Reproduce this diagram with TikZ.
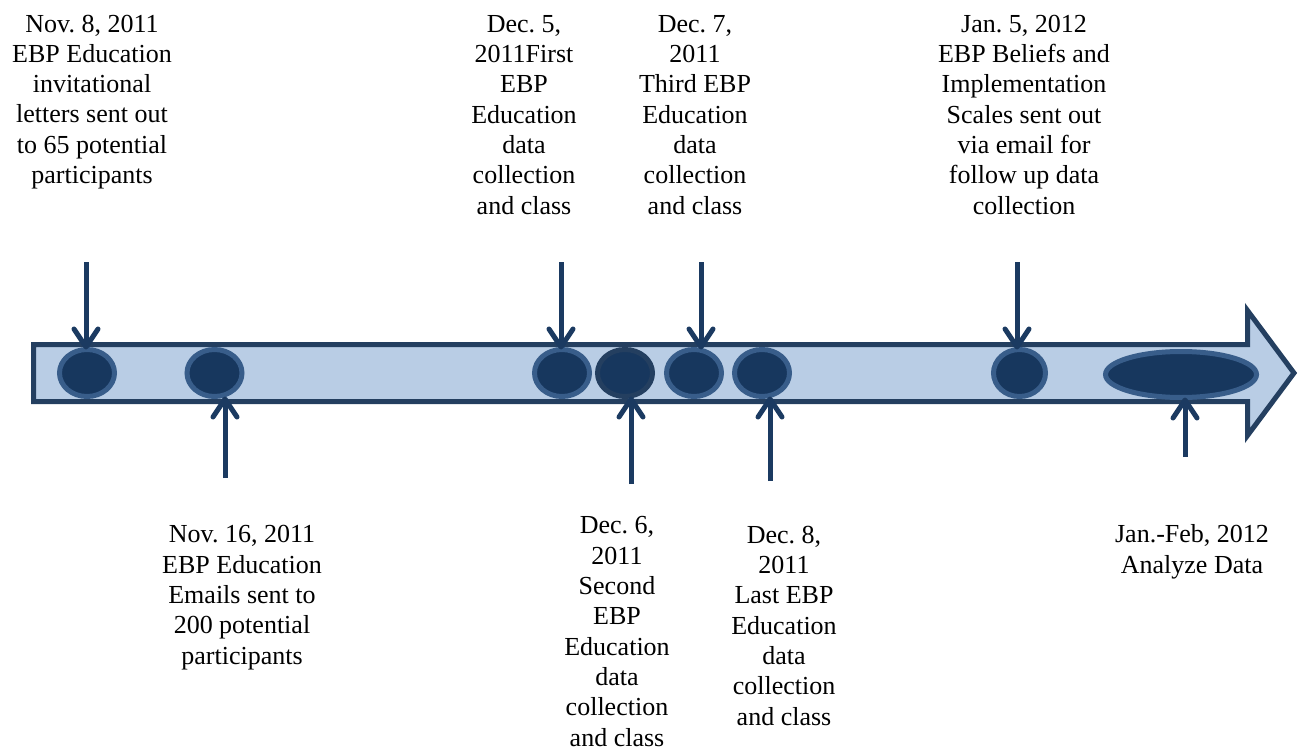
\documentclass[tikz,border=0pt]{standalone}
\usepackage{fontspec}
\setmainfont{Liberation Serif}
\usetikzlibrary{arrows.meta,shapes.geometric}
\frenchspacing
\definecolor{barfill}{HTML}{B9CDE5}
\definecolor{barline}{HTML}{243F60}
\definecolor{dotfill}{HTML}{17375E}
\definecolor{dotline}{HTML}{385D8A}
\definecolor{dotlinedark}{HTML}{243F60}
\definecolor{conn}{HTML}{1B3A61}
\tikzset{
  dot/.style={ellipse, draw=dotline, fill=dotfill, line width=5pt, inner sep=0pt, outer sep=0pt, minimum width=55pt, minimum height=47pt},
  lbl/.style={align=center, anchor=base, inner sep=0pt, font=\fontsize{26}{30.3}\selectfont\frenchspacing},
  conn/.style={draw=conn, line width=5pt, -{Straight Barb[length=18pt,width=24pt,round]}}
}
\begin{document}
\begin{tikzpicture}[x=1pt,y=-1pt]
\useasboundingbox (0,0) rectangle (1299,752);
% timeline arrow
\draw[barline, fill=barfill, line width=5pt, line join=miter]
  (33.5,344.5) -- (1247.5,344.5) -- (1247.5,310.5) -- (1294,373) -- (1247.5,435.5) -- (1247.5,401.5) -- (33.5,401.5) -- cycle;
% dots
\node[dot] (e1) at (87,373) {};
\node[dot] (e2) at (214.5,373) {};
\node[dot] (e3) at (562,373) {};
\node[dot, draw=dotlinedark] (e4) at (625,373) {};
\node[dot] (e5) at (694,373) {};
\node[dot] (e6) at (762,373) {};
\node[dot, minimum width=52pt] (e7) at (1019.5,373) {};
\node[dot, minimum width=151pt, minimum height=46pt] (e8) at (1181,374.5) {};
% labels (anchored at the baseline of the last line)
\node[lbl] (t1) at (92,183.5) {Nov. 8, 2011\\EBP Education\\invitational\\letters sent out\\to 65 potential\\participants};
\node[lbl] (t2) at (242,664) {Nov. 16, 2011\\EBP Education\\Emails sent to\\200 potential\\participants};
\node[lbl] (t3) at (524,214) {Dec. 5,\\2011First\\EBP\\Education\\data\\collection\\and class};
\node[lbl] (t4) at (617,746) {Dec. 6,\\2011\\Second\\EBP\\Education\\data\\collection\\and class};
\node[lbl] (t5) at (695,214) {Dec. 7,\\2011\\Third EBP\\Education\\data\\collection\\and class};
\node[lbl] (t6) at (784,725) {Dec. 8,\\2011\\Last EBP\\Education\\data\\collection\\and class};
\node[lbl] (t7) at (1024,214) {Jan. 5, 2012\\EBP Beliefs and\\Implementation\\Scales sent out\\via email for\\follow up data\\collection};
\node[lbl] (t8) at (1192,573) {Jan.-Feb, 2012\\Analyze Data};
% connector free ends
\coordinate (a1) at (86,262);
\coordinate (a2) at (225,478);
\coordinate (a3) at (561,262);
\coordinate (a4) at (631,484);
\coordinate (a5) at (701,262);
\coordinate (a6) at (770,481);
\coordinate (a7) at (1017,262);
\coordinate (a8) at (1185,457);
% connectors
\draw[conn] (a1) -- (a1 |- e1.north);
\draw[conn] (a2) -- (a2 |- e2.south);
\draw[conn] (a3) -- (a3 |- e3.north);
\draw[conn] (a4) -- (a4 |- e4.south);
\draw[conn] (a5) -- (a5 |- e5.north);
\draw[conn] (a6) -- (a6 |- e6.south);
\draw[conn] (a7) -- (a7 |- e7.north);
\draw[conn] (a8) -- (a8 |- e8.south);
\end{tikzpicture}
\end{document}
